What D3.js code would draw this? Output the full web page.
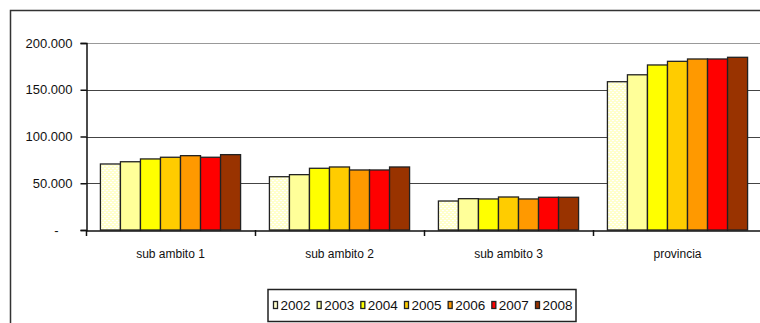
<!DOCTYPE html>
<html><head><meta charset="utf-8">
<script src="https://cdn.jsdelivr.net/npm/d3@7"></script>
<style>body{margin:0;background:#fff}svg{display:block}text{font-family:"Liberation Sans",Arial,sans-serif}</style>
</head><body>
<svg id="c" width="760" height="323"></svg>
<script>
const categories = ["sub ambito 1","sub ambito 2","sub ambito 3","provincia"];
const years = ["2002","2003","2004","2005","2006","2007","2008"];
const colors = ["#FFFFCC","#FFFF99","#FFFF00","#FFCC00","#FF9900","#FF0000","#993300"];
const v2002 = [70600, 57000, 31000, 158600];
const v2003 = [73000, 59200, 33500, 166000];
const v2004 = [76000, 66000, 33200, 176500];
const v2005 = [77800, 67400, 35300, 180400];
const v2006 = [79500, 64200, 33200, 182900];
const v2007 = [77800, 64200, 35000, 182900];
const v2008 = [80600, 67400, 35000, 184700];
const yTicks = [0, 50000, 100000, 150000, 200000];
const yTickLabels = ["-", "50.000", "100.000", "150.000", "200.000"];

const series = [v2002,v2003,v2004,v2005,v2006,v2007,v2008];
const svg = d3.select("#c");

// pattern for 2002
const defs = svg.append("defs");
const pat = defs.append("pattern").attr("id","dots").attr("width",4).attr("height",4).attr("patternUnits","userSpaceOnUse");
pat.append("rect").attr("width",4).attr("height",4).attr("fill","#FFFFCC");
pat.append("rect").attr("x",0).attr("y",0).attr("width",2).attr("height",1).attr("fill","#ffffff");
pat.append("rect").attr("x",2).attr("y",2).attr("width",2).attr("height",1).attr("fill","#ffffff");
const fillFor = i => i === 0 ? "url(#dots)" : colors[i];

// outer frame
svg.append("path").attr("d","M10.5,323 L10.5,10.5 L770,10.5").attr("fill","none").attr("stroke","#333").attr("stroke-width",1.5);

const x = d3.scaleBand().domain(categories).range([86, 762]).paddingInner(0).paddingOuter(0);
const xi = d3.scaleBand().domain(years).range([0, x.bandwidth()]).paddingOuter(0.72).paddingInner(0);
const y = d3.scaleLinear().domain([0, 200000]).range([230, 43]);

// gridlines
svg.append("g").selectAll("line").data(yTicks.filter(t=>t>0)).join("line")
  .attr("x1",86).attr("x2",760).attr("y1",d=>Math.round(y(d))+0.5).attr("y2",d=>Math.round(y(d))+0.5)
  .attr("stroke",d=>d===200000?"#999":"#444").attr("stroke-width",1.2);

// bars
const g = svg.append("g");
categories.forEach((c, ci) => {
  series.forEach((s, si) => {
    g.append("rect")
      .attr("x", x(c) + xi(years[si]))
      .attr("y", y(s[ci]))
      .attr("width", xi.bandwidth())
      .attr("height", y(0) - y(s[ci]))
      .attr("fill", fillFor(si))
      .attr("stroke", "#222").attr("stroke-width", 1.3);
  });
});

// y axis
const yAxis = d3.axisLeft(y).tickValues(yTicks).tickFormat((d,i)=>yTickLabels[i]).tickSize(6).tickPadding(8);
const ya = svg.append("g").attr("transform","translate(86.5,0)").call(yAxis);
ya.select(".domain").attr("stroke","#111").attr("stroke-width",1.5);
ya.selectAll(".tick line").attr("stroke","#111").attr("stroke-width",1.5);
ya.selectAll(".tick text").attr("font-size",13).attr("fill","#111").attr("font-family","Liberation Sans, Arial, sans-serif");
ya.selectAll(".tick text").filter((d)=>d===0).attr("dx",-14);

// x axis
const xAxis = d3.axisBottom(x).tickSize(0).tickPadding(19);
const xa = svg.append("g").attr("transform","translate(0,230.5)").call(xAxis);
xa.select(".domain").attr("stroke","#111").attr("stroke-width",1.5);
xa.selectAll(".tick text").attr("font-size",12).attr("fill","#111").attr("font-family","Liberation Sans, Arial, sans-serif");
// category separators ticks
const sepPos = categories.map(c => x(c)).concat([x.range()[1]]);
svg.append("g").selectAll("line").data(sepPos).join("line")
  .attr("x1",d=>Math.round(d)+0.5).attr("x2",d=>Math.round(d)+0.5).attr("y1",230).attr("y2",236)
  .attr("stroke","#111").attr("stroke-width",1.5);

// legend
const lg = svg.append("g");
lg.append("rect").attr("x",268).attr("y",289.5).attr("width",308).attr("height",32).attr("fill","#fff").attr("stroke","#222").attr("stroke-width",1.5);
const lx = d3.scalePoint().domain(years).range([273, 535]);
years.forEach((yr, i) => {
  lg.append("rect").attr("x", lx(yr) + 0.5).attr("y", 301.5).attr("width", 4).attr("height", 7)
    .attr("fill", colors[i]).attr("stroke","#222").attr("stroke-width",1.3);
  lg.append("text").attr("x", lx(yr) + 7.5).attr("y", 310).attr("font-size",13.5)
    .attr("fill","#111").text(yr);
});
</script>
</body></html>
